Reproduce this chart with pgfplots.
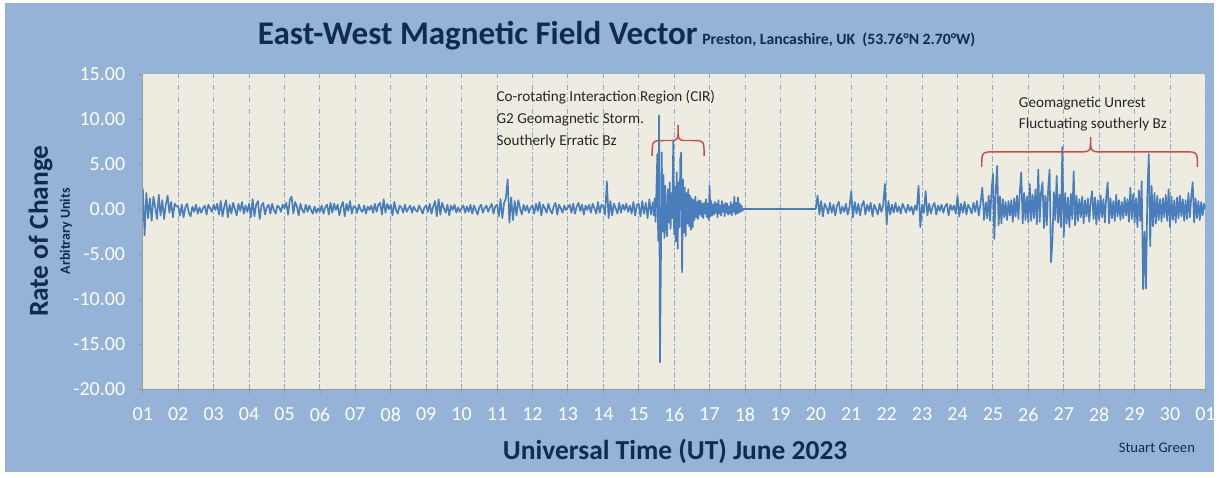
\documentclass[border=0pt]{standalone}
\usepackage{fontspec}
\setmainfont{Carlito}
\usepackage{pgfplots}
\usepackage{pgfplotstable}
\pgfplotsset{compat=1.18}
\definecolor{bgblue}{HTML}{95B3D7}
\definecolor{plotc}{HTML}{EEECE1}
\definecolor{linec}{HTML}{4A7EBB}
\definecolor{navy}{HTML}{112B4A}
\definecolor{gridc}{HTML}{8EAACF}
\definecolor{axc}{HTML}{9A9A9A}
\definecolor{bracec}{HTML}{C0504D}
\definecolor{annc}{HTML}{262626}

% Days 1.00 - 15.40, step 0.05
\pgfplotstableread[row sep=\\]{y\\
2.3\\-2.9\\1.8\\-1.0\\1.2\\-1.3\\1.4\\0.2\\-1.1\\1.6\\-0.7\\1.0\\-1.1\\0.5\\1.5\\-0.4\\0.8\\-0.9\\0.6\\0.3\\
0.3\\-0.7\\0.5\\-0.9\\0.2\\0.6\\-0.4\\-0.8\\0.3\\-0.3\\0.5\\-0.5\\0.2\\-0.4\\0.1\\0.4\\-0.6\\0.5\\0.1\\-0.3\\
0.5\\-0.1\\0.6\\-0.6\\0.9\\-0.8\\0.3\\1.0\\-0.9\\0.5\\-0.5\\0.7\\0.0\\-0.7\\0.6\\-0.2\\0.8\\-0.5\\0.4\\-0.3\\
0.6\\-0.9\\1.1\\-0.8\\0.5\\0.9\\-1.1\\0.4\\0.7\\-0.6\\0.2\\0.5\\-0.5\\0.6\\-0.1\\-0.5\\0.4\\0.2\\-0.3\\0.5\\
0.1\\0.7\\-0.6\\1.0\\1.4\\-0.5\\0.8\\0.3\\-0.7\\0.6\\-0.1\\-0.4\\0.5\\-0.3\\0.4\\-0.1\\-0.5\\0.3\\-0.4\\0.1\\
-0.3\\0.4\\-0.5\\0.2\\0.5\\-0.6\\0.7\\-0.4\\0.6\\-0.1\\0.5\\-0.7\\0.3\\0.8\\-0.8\\0.6\\-0.2\\0.9\\-0.5\\0.3\\
0.2\\-0.4\\0.5\\-0.1\\-0.3\\0.4\\-0.5\\0.3\\-0.1\\0.4\\-0.4\\0.6\\-0.3\\0.5\\0.7\\-0.6\\1.1\\-0.4\\0.6\\0.0\\
0.5\\-0.7\\0.8\\-0.1\\-0.5\\0.4\\0.2\\-0.4\\0.5\\-0.3\\0.1\\0.4\\-0.4\\0.3\\-0.1\\-0.3\\0.4\\0.0\\-0.5\\0.2\\
0.4\\-0.3\\0.6\\-0.5\\0.3\\0.9\\-0.8\\1.1\\-0.6\\0.7\\0.1\\-0.4\\0.5\\-0.7\\0.4\\-0.1\\0.5\\-0.4\\0.2\\-0.3\\
0.1\\0.4\\-0.4\\0.3\\-0.3\\0.5\\-0.5\\0.4\\-0.1\\-0.6\\0.2\\0.5\\-0.4\\0.1\\0.4\\-0.3\\0.2\\0.6\\-0.5\\0.3\\
0.5\\-0.8\\1.1\\-1.0\\0.7\\1.2\\3.3\\-1.5\\1.3\\-1.2\\0.9\\-0.7\\1.0\\0.1\\-0.6\\0.5\\-0.2\\0.4\\-0.4\\0.2\\
0.4\\-0.5\\0.6\\-0.2\\0.8\\-0.7\\0.5\\0.1\\-0.4\\0.6\\-0.1\\-0.5\\0.3\\0.7\\-0.6\\0.5\\0.1\\-0.4\\0.4\\-0.1\\
0.2\\0.5\\-0.4\\0.6\\-0.5\\0.3\\0.7\\-0.2\\0.5\\-0.6\\0.4\\-0.1\\0.5\\-0.4\\0.6\\0.1\\-0.5\\0.8\\-0.4\\0.5\\
0.3\\-0.6\\3.1\\-1.0\\0.9\\-0.7\\0.6\\0.1\\-0.5\\0.7\\-0.4\\0.5\\-0.1\\0.6\\-0.3\\0.4\\-0.5\\0.8\\-0.7\\0.5\\
0.6\\-0.8\\0.9\\-0.5\\0.7\\-1.0\\1.1\\-0.6\\0.8\\
}\segA

% Days 15.40 - 17.95, step 0.025 (storm)
\pgfplotstableread[row sep=\\]{y\\
0.8\\-0.7\\1.2\\-1.4\\2.0\\6.1\\-3.5\\10.4\\-17.0\\-6.7\\
6.3\\-2.5\\3.8\\-3.2\\2.6\\-1.8\\-3.0\\2.2\\-1.5\\3.0\\
-2.2\\1.8\\-1.0\\7.6\\-2.8\\2.5\\-3.6\\4.1\\-4.4\\3.0\\
-2.0\\5.6\\6.3\\-7.0\\3.3\\-2.6\\2.4\\-3.0\\1.8\\-1.6\\
2.2\\-1.9\\1.5\\-2.3\\1.2\\-2.0\\1.0\\-1.2\\1.4\\-0.9\\
0.8\\-1.1\\1.0\\-0.6\\0.9\\-0.8\\0.6\\-1.0\\0.7\\-0.5\\
1.1\\-0.9\\0.6\\-1.2\\2.6\\-0.8\\0.9\\-0.7\\0.5\\-0.6\\
0.8\\-0.4\\0.6\\-0.9\\1.0\\-0.5\\0.4\\-0.7\\0.9\\-0.3\\
0.5\\-0.8\\0.7\\-0.4\\0.6\\-0.6\\0.3\\-0.5\\0.8\\-0.7\\
0.5\\-0.3\\1.4\\-0.6\\0.7\\-0.5\\1.3\\-0.4\\0.6\\-0.3\\
0.4\\-0.2\\0.0\\
}\segB

% Days 20.00 - 24.80, step 0.05
\pgfplotstableread[row sep=\\]{y\\
0.0\\1.5\\-0.6\\0.9\\-0.8\\0.6\\0.2\\-0.5\\0.7\\-0.4\\0.5\\-0.7\\0.4\\0.8\\-0.5\\0.3\\-0.3\\0.6\\-0.6\\0.2\\
2.0\\-0.9\\0.8\\-0.5\\0.6\\-0.7\\0.4\\0.9\\-0.6\\0.5\\-0.2\\0.7\\-0.8\\0.5\\0.0\\-0.6\\0.6\\-0.3\\0.4\\2.8\\
-1.7\\0.9\\-0.6\\0.5\\-0.4\\0.7\\-0.3\\0.3\\-0.5\\0.6\\0.1\\-0.4\\0.5\\-0.2\\0.3\\-0.6\\0.4\\-0.1\\2.6\\-2.0\\
0.5\\-0.4\\2.0\\-0.7\\0.6\\-0.5\\0.3\\0.7\\-0.6\\0.4\\-0.2\\0.5\\-0.4\\0.3\\0.6\\-0.7\\0.5\\-0.1\\0.4\\-0.5\\
1.5\\-0.8\\0.6\\-0.4\\0.8\\-0.6\\0.5\\0.1\\-0.5\\0.7\\-0.3\\0.9\\-0.7\\0.6\\2.4\\-1.2\\0.8\\
}\segD

% Days 24.80 - 31.00, step 0.04
\pgfplotstableread[row sep=\\]{y\\
0.8\\-1.0\\1.5\\-1.3\\2.0\\3.9\\-3.3\\2.1\\4.8\\-1.8\\
1.4\\-1.6\\1.1\\-0.9\\0.8\\-1.2\\0.9\\-0.7\\1.0\\-1.4\\
1.2\\-0.8\\1.5\\-1.1\\2.0\\4.1\\-1.6\\1.8\\-1.2\\1.4\\
-1.5\\2.8\\-1.3\\1.6\\-1.0\\2.2\\-1.7\\4.4\\-1.4\\1.9\\
3.0\\-2.1\\1.5\\-1.8\\2.3\\4.4\\-5.9\\-3.6\\1.9\\-1.2\\
3.7\\-1.5\\1.6\\-2.0\\6.9\\-3.1\\1.8\\-1.6\\1.3\\-2.0\\
1.7\\-1.1\\4.2\\-1.8\\1.5\\-1.3\\1.1\\-0.9\\1.4\\-1.6\\
1.0\\-0.8\\1.2\\-1.4\\0.9\\2.0\\-1.1\\1.3\\-1.7\\1.0\\
-1.2\\1.5\\-0.9\\1.1\\-1.5\\1.4\\3.0\\-1.6\\1.2\\-1.0\\
0.9\\-1.3\\1.6\\-0.8\\1.0\\-1.2\\0.8\\-1.0\\1.3\\-0.7\\
1.1\\-1.4\\2.4\\-1.1\\1.7\\-1.5\\1.2\\-2.0\\2.1\\-1.3\\
3.1\\-8.9\\-2.5\\-8.8\\1.5\\6.1\\-4.1\\2.6\\-1.9\\1.8\\
-1.6\\1.5\\-1.2\\1.1\\-1.4\\1.2\\-0.9\\1.6\\-1.3\\2.2\\
-2.0\\1.4\\-1.2\\1.0\\-1.5\\1.3\\-1.0\\1.5\\-0.8\\1.1\\
-1.3\\1.0\\-1.1\\1.8\\-0.9\\1.4\\3.0\\-1.5\\1.2\\-1.0\\
0.9\\-1.2\\0.8\\-0.7\\0.6\\0.0\\
}\segE

\begin{document}
\begin{tikzpicture}
\begin{scope}[x=0.75pt,y=0.75pt]
\fill[white] (0,0) rectangle (1220,478);
\fill[bgblue] (5,5) rectangle (1216,475);
\end{scope}
\begin{axis}[
  at={(107.25pt,66pt)}, anchor=south west,
  scale only axis, width=798pt, height=237pt,
  xmin=1, xmax=31, ymin=-20, ymax=15,
  axis x line*=bottom, axis y line*=left,
  axis line style={axc, line width=0.8pt},
  axis background/.style={fill=plotc},
  xtick={1,...,31},
  xticklabels={01,02,03,04,05,06,07,08,09,10,11,12,13,14,15,16,17,18,19,20,21,22,23,24,25,26,27,28,29,30,01},
  ytick={-20,-15,-10,-5,0,5,10,15},
  yticklabels={-20.00,-15.00,-10.00,-5.00,0.00,5.00,10.00,15.00},
  tick align=outside, major tick length=3.75pt,
  tick style={axc, line width=0.6pt},
  xmajorgrids,
  major x grid style={gridc, line width=0.7pt, dash pattern=on 4pt off 2pt on 1pt off 2pt},
  ticklabel style={font=\fontsize{15}{18}\selectfont, text=white},
  xticklabel style={yshift=-6.5pt},
  yticklabel style={xshift=-6pt},
]
\addplot[linec, line width=1.25pt, line join=round] table[x expr=1+\coordindex*0.05, y=y]{\segA};
\addplot[linec, line width=1.25pt, line join=round] table[x expr=15.4+\coordindex*0.025, y=y]{\segB};
\addplot[linec, line width=1.25pt, line join=round] coordinates {(17.95,0.0) (20.0,0.0)};
\addplot[linec, line width=1.25pt, line join=round] table[x expr=20+\coordindex*0.05, y=y]{\segD};
\addplot[linec, line width=1.25pt, line join=round] table[x expr=24.8+\coordindex*0.04, y=y]{\segE};
\end{axis}
\begin{scope}[x=0.75pt,y=0.75pt]
% titles
\node[anchor=base west, inner sep=0, text=navy, font=\bfseries\fontsize{24.8}{28}\selectfont] at (258,433) {East-West Magnetic Field Vector};
\node[anchor=base west, inner sep=0, text=navy, font=\bfseries\fontsize{11.8}{14}\selectfont] at (703,433) {Preston, Lancashire, UK\ \ (53.76°N 2.70°W)};
\node[anchor=base, inner sep=0, text=navy, font=\bfseries\fontsize{20.6}{24}\selectfont] at (676,18) {Universal Time (UT) June 2023};
\node[anchor=base, rotate=90, inner sep=0, text=navy, font=\bfseries\fontsize{20.6}{24}\selectfont] at (48,246.5) {Rate of Change};
\node[anchor=base, rotate=90, inner sep=0, text=navy, font=\bfseries\fontsize{10.5}{12}\selectfont] at (70,246.5) {Arbitrary Units};
\node[anchor=base west, inner sep=0, text=navy, font=\fontsize{11}{13}\selectfont] at (1120,25) {Stuart Green};
% annotations
\node[anchor=base west, inner sep=0, text=annc, font=\fontsize{11.4}{13}\selectfont] at (497,376) {Co-rotating Interaction Region (CIR)};
\node[anchor=base west, inner sep=0, text=annc, font=\fontsize{11.4}{13}\selectfont] at (497,354) {G2 Geomagnetic Storm.};
\node[anchor=base west, inner sep=0, text=annc, font=\fontsize{11.4}{13}\selectfont] at (497,332) {Southerly Erratic Bz};
\node[anchor=base west, inner sep=0, text=annc, font=\fontsize{11.4}{13}\selectfont] at (1020,370) {Geomagnetic Unrest};
\node[anchor=base west, inner sep=0, text=annc, font=\fontsize{11.4}{13}\selectfont] at (1020,349) {Fluctuating southerly Bz};
% braces
\draw[bracec, line width=1.1pt] (653,322) .. controls (653,337.3) .. (665,337.3) -- (671,337.3) .. controls (679,337.3) .. (679,353) .. controls (679,337.3) .. (687,337.3) -- (693,337.3) .. controls (705,337.3) .. (705,322);
\draw[bracec, line width=1.1pt] (983,311) .. controls (983,326) .. (997,326) -- (1082,326) .. controls (1092,326) .. (1092,341) .. controls (1092,326) .. (1102,326) -- (1185,326) .. controls (1199,326) .. (1199,311);
\end{scope}
\end{tikzpicture}
\end{document}
